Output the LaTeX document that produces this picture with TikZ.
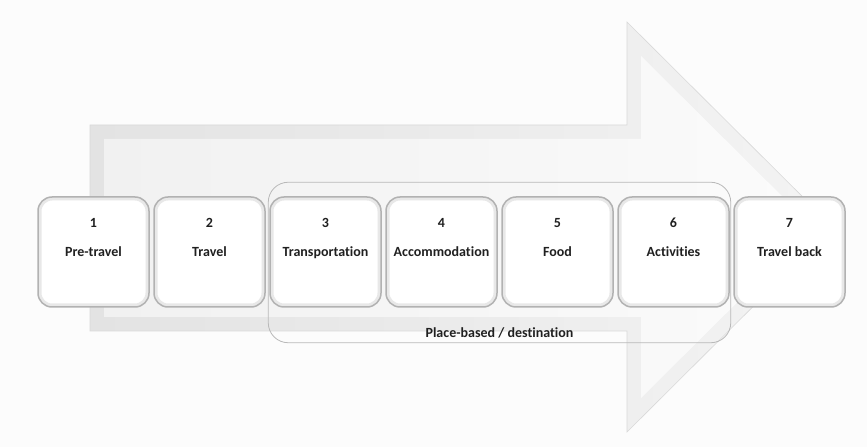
\documentclass[tikz,border=0pt]{standalone}
\usepackage{fontspec}
\setmainfont[Ligatures=NoCommon]{Carlito}
\usetikzlibrary{positioning}
\usetikzlibrary{fit}

\newcommand{\stagetext}[2]{#1\\[13pt]#2\\[13pt]\mbox{}}

\begin{document}
\begin{tikzpicture}[x=1pt, y=1pt, node distance=116pt]
  \tikzset{stage/.style={rectangle, draw=gray!60, line width=1.5pt, fill=white,
      rounded corners=14pt, minimum width=111pt, minimum height=110pt,
      inner sep=0pt, align=center, text=gray!25!black,
      font=\fontsize{14}{16.5}\selectfont\bfseries,
      path picture={\draw[gray!18, line width=7pt, rounded corners=14pt]
        (path picture bounding box.south west) rectangle
        (path picture bounding box.north east);}}}
  \tikzset{frame/.style={rectangle, draw=gray!55, line width=0.8pt, rounded corners=20pt}}
  \tikzset{caption/.style={text=gray!25!black, font=\fontsize{14}{16.5}\selectfont\bfseries}}
  \useasboundingbox (0,0) rectangle (867,447);
  \fill[gray!2] (0,0) rectangle (867,447);
  % big arrow behind the stages
  \shade[left color=gray!22, right color=gray!9, draw=gray!30, line width=0.6pt]
    (90,116) -- (90,322) -- (627,322) -- (627,425) -- (833,220) -- (627,15) -- (627,116) -- cycle;
  \shade[left color=gray!11, right color=gray!3]
    (104,130) -- (104,308) -- (641,308) -- (641,391) -- (813,220) -- (641,49) -- (641,130) -- cycle;
  % stages
  \node [stage] at (93.5,195) (s1) {\stagetext{1}{Pre-travel}};
  \node [stage] [right of = s1] (s2) {\stagetext{2}{Travel}};
  \node [stage] [right of = s2] (s3) {\stagetext{3}{Transportation}};
  \node [stage] [right of = s3] (s4) {\stagetext{4}{Accommodation}};
  \node [stage] [right of = s4] (s5) {\stagetext{5}{Food}};
  \node [stage] [right of = s5] (s6) {\stagetext{6}{Activities}};
  \node [stage] [right of = s6] (s7) {\stagetext{7}{Travel back}};
  % destination group
  \node [frame, fit=(s3)(s6), inner xsep=1pt, inner ysep=24.5pt, yshift=-10.5pt] (dest) {};
  \node [caption, above=1pt of dest.south] (destlabel) {Place-based / destination};
\end{tikzpicture}
\end{document}
